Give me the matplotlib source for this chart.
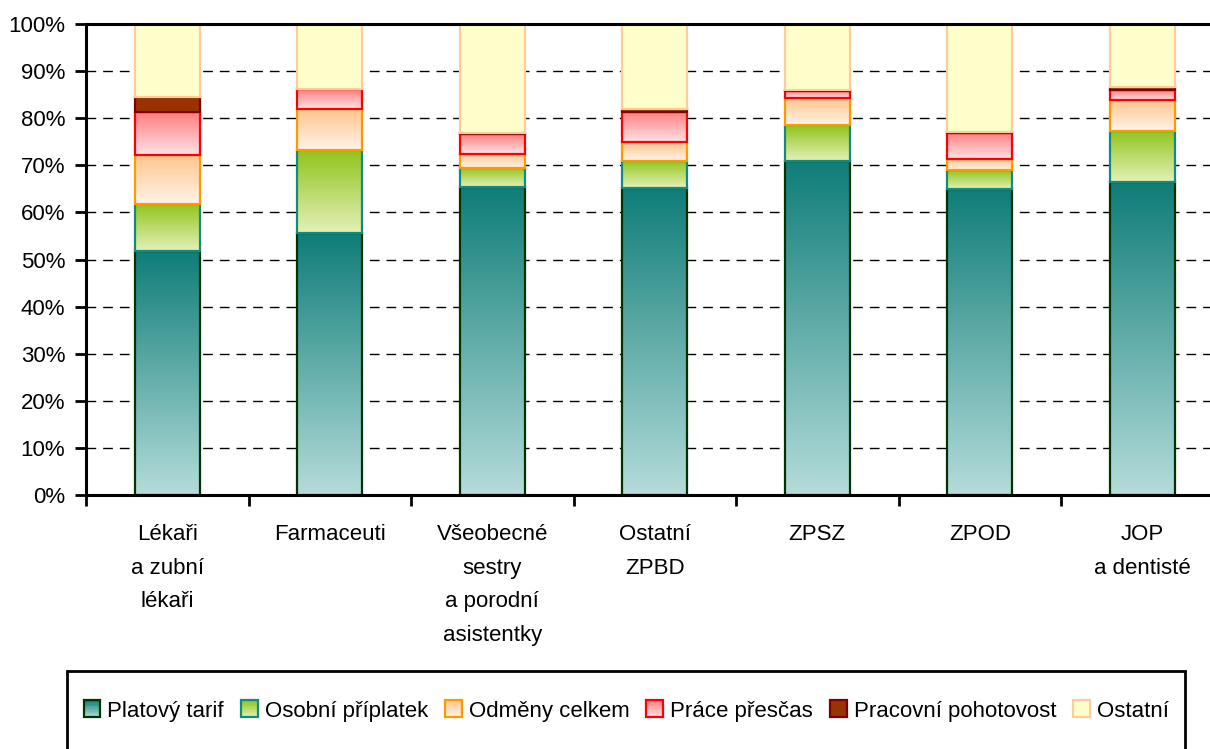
import numpy as np
import matplotlib
matplotlib.use("Agg")
import matplotlib.pyplot as plt
from matplotlib.colors import LinearSegmentedColormap
from matplotlib.patches import Rectangle
from matplotlib.legend_handler import HandlerBase
from matplotlib.ticker import FixedLocator, PercentFormatter

plt.rcParams['font.family'] = ['Liberation Sans', 'DejaVu Sans']

categories = ["Lékaři\na zubní\nlékaři", "Farmaceuti", "Všeobecné\nsestry\na porodní\nasistentky",
              "Ostatní\nZPBD", "ZPSZ", "ZPOD", "JOP\na dentisté"]

platovy_tarif = [51.7, 55.6, 65.3, 65.1, 71.0, 65.0, 66.4]
osobni_priplatek = [10.0, 17.6, 4.1, 5.9, 7.6, 4.0, 10.9]
odmeny_celkem = [10.5, 8.7, 3.0, 4.0, 5.6, 2.3, 6.6]
prace_prescas = [9.1, 4.2, 4.2, 6.4, 1.6, 5.6, 2.1]
pracovni_pohotovost = [3.1, 0.2, 0.2, 0.5, 0.2, 0.2, 0.6]
ostatni = [15.6, 13.7, 23.2, 18.1, 14.0, 22.9, 13.4]

series_names = ["Platový tarif", "Osobní příplatek", "Odměny celkem",
                "Práce přesčas", "Pracovní pohotovost", "Ostatní"]
series_values = [platovy_tarif, osobni_priplatek, odmeny_celkem,
                 prace_prescas, pracovni_pohotovost, ostatni]
# (bottom colour, top colour, edge colour)
styles = [
    ("#b4dcda", "#0f7d78", "#003300"),
    ("#e4f1b8", "#90c41c", "#138a80"),
    ("#fff4e8", "#ffc48c", "#ff9900"),
    ("#ffe2e6", "#ff7d7d", "#ff0000"),
    ("#993300", "#993300", "#800000"),
    ("#ffffcc", "#ffffcc", "#ffcc99"),
]

FS = 16
W, H = 1210, 749
fig = plt.figure(figsize=(W / 100, H / 100), dpi=100)
ax_left, ax_right = 86, 86 + 7 * 162.5
ax_bottom, ax_top = 495, 24
ax = fig.add_axes([ax_left / W, (H - ax_bottom) / H,
                   (ax_right - ax_left) / W, (ax_bottom - ax_top) / H])

x = np.arange(len(categories))
bar_w = 0.4
grad = np.linspace(0, 1, 256).reshape(-1, 1)
bottom = np.zeros(len(categories))
for i, (vals, (cb, ct, ce)) in enumerate(zip(series_values, styles)):
    vals = np.array(vals)
    cmap = LinearSegmentedColormap.from_list(f"c{i}", [cb, ct])
    bars = ax.bar(x, vals, bar_w, bottom=bottom, facecolor='none',
                  edgecolor=ce, linewidth=1.6, zorder=3 + i * 2 + 1)
    for p in bars:
        x0, y0 = p.get_x(), p.get_y()
        ax.imshow(grad, extent=[x0, x0 + p.get_width(), y0, y0 + p.get_height()],
                  origin='lower', aspect='auto', cmap=cmap, interpolation='bilinear',
                  zorder=3 + i * 2)
    bottom += vals

ax.set_xlim(-0.5, len(categories) - 0.5)
ax.set_ylim(0, 100)
ax.set_aspect('auto')

ax.yaxis.set_major_locator(FixedLocator(np.arange(0, 101, 10)))
ax.yaxis.set_major_formatter(PercentFormatter(decimals=0))
ax.set_xticks(x)
ax.set_xticklabels(categories, linespacing=1.78, va='top')
ax.set_xticks(np.arange(-0.5, len(categories), 1), minor=True)
ax.tick_params(axis='x', which='major', length=0, pad=21, labelsize=FS)
ax.tick_params(axis='x', which='minor', length=8, width=2, direction='out')
ax.tick_params(axis='y', length=8, width=2, direction='out', pad=7, labelsize=FS)

ax.grid(axis='y', color='black', linestyle=(0, (7, 5)), linewidth=1, zorder=1)
for s in ['left', 'bottom', 'top']:
    ax.spines[s].set_linewidth(2.2)
    ax.spines[s].set_zorder(20)
ax.spines['right'].set_visible(False)

# Legend frame
frame_l, frame_t, frame_r = 67, 671, 1185
fig.patches.append(Rectangle((frame_l / W, -0.05), (frame_r - frame_l) / W,
                             (H - frame_t) / H + 0.05, transform=fig.transFigure,
                             facecolor='white', edgecolor='black', linewidth=2))


class GradHandler(HandlerBase):
    def __init__(self, cb, ct, ce):
        super().__init__()
        self.cb, self.ct, self.ce = cb, ct, ce

    def create_artists(self, legend, orig_handle, xdescent, ydescent, width, height,
                       fontsize, trans):
        cmap = LinearSegmentedColormap.from_list("h", [self.cb, self.ct])
        arts = []
        n = 12
        side = min(width, height)
        x0 = -xdescent + (width - side) / 2
        y0 = -ydescent + (height - side) / 2
        for k in range(n):
            r = Rectangle((x0, y0 + side * k / n), side, side / n + 0.2,
                          facecolor=cmap((k + 0.5) / n), edgecolor='none', transform=trans)
            arts.append(r)
        arts.append(Rectangle((x0, y0), side, side, facecolor='none',
                              edgecolor=self.ce, linewidth=1.6, transform=trans))
        return arts


handles = [Rectangle((0, 0), 1, 1) for _ in series_names]
hmap = {h: GradHandler(*st) for h, st in zip(handles, styles)}
fig.legend(handles, series_names, handler_map=hmap, loc='center',
           bbox_to_anchor=((frame_l + frame_r) / 2 / W, (H - 711) / H),
           ncol=6, frameon=False, fontsize=FS, handlelength=0.78, handleheight=0.78,
           handletextpad=0.3, columnspacing=0.75, borderpad=0)

fig.savefig("out.png", dpi=100)
